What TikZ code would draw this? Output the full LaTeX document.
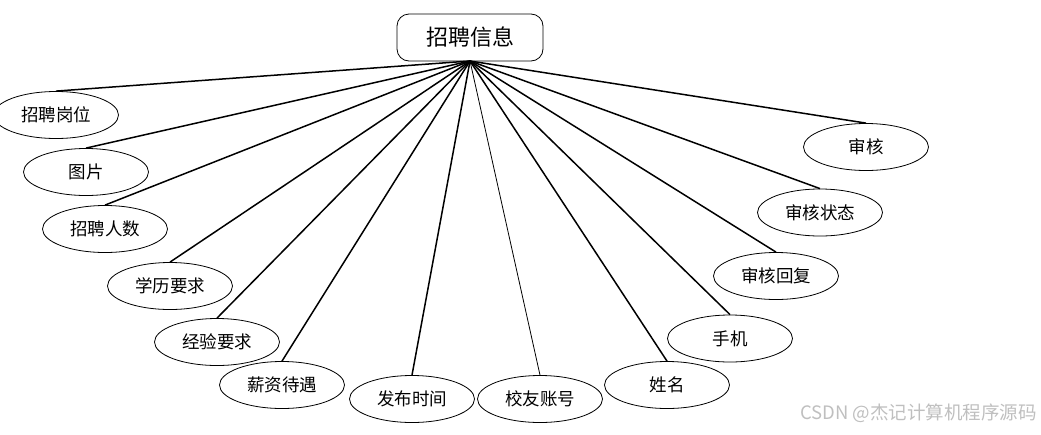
\documentclass[tikz,border=0pt]{standalone}
\usepackage{fontspec}
\newfontfamily\cjk{Noto Sans CJK SC}
\usetikzlibrary{shapes.geometric}
\begin{document}
\begin{tikzpicture}[x=1pt,y=-1pt,
  attr/.style={draw, ellipse, line width=0.8pt, minimum width=125pt, minimum height=47pt, inner sep=0pt, font=\cjk\fontsize{17.5}{19}\selectfont},
  ent/.style={draw, rounded corners=12pt, line width=0.8pt, minimum width=146pt, minimum height=47pt, inner sep=0pt, font=\cjk\fontsize{22}{24}\selectfont},
  link/.style={line width=1.5pt},
  thinlink/.style={line width=0.8pt},
  wm/.style={font=\cjk\fontsize{18.5}{20}\selectfont, text=black!25, inner sep=0pt, anchor=east}]
\useasboundingbox (0,0) rectangle (1041,434);
\node[ent] (top) at (470,37.5) {招聘信息};
\coordinate (hub) at (470,61);
\node[attr] (a1) at (56,115) {招聘岗位};
\node[attr] (a2) at (86,172) {图片};
\node[attr] (a3) at (105,229) {招聘人数};
\node[attr] (a4) at (170,286) {学历要求};
\node[attr] (a5) at (217,342) {经验要求};
\node[attr] (a6) at (282,385) {薪资待遇};
\node[attr] (a7) at (412,399) {发布时间};
\node[attr] (a8) at (540,399) {校友账号};
\node[attr] (a9) at (667,385) {姓名};
\node[attr] (a10) at (730,338.5) {手机};
\node[attr] (a11) at (776,276) {审核回复};
\node[attr] (a12) at (820,212.5) {审核状态};
\node[attr] (a13) at (866,147) {审核};
\foreach \n in {a1,a2,a3,a4,a5,a6,a7,a9,a10,a11,a12,a13}
  \draw[link] (hub) -- (\n.north);
\draw[thinlink] (hub) -- (a8.north);
\node[wm] (wm) at (1037,413) {CSDN\hspace{4pt}@杰记计算机程序源码};
\end{tikzpicture}
\end{document}
